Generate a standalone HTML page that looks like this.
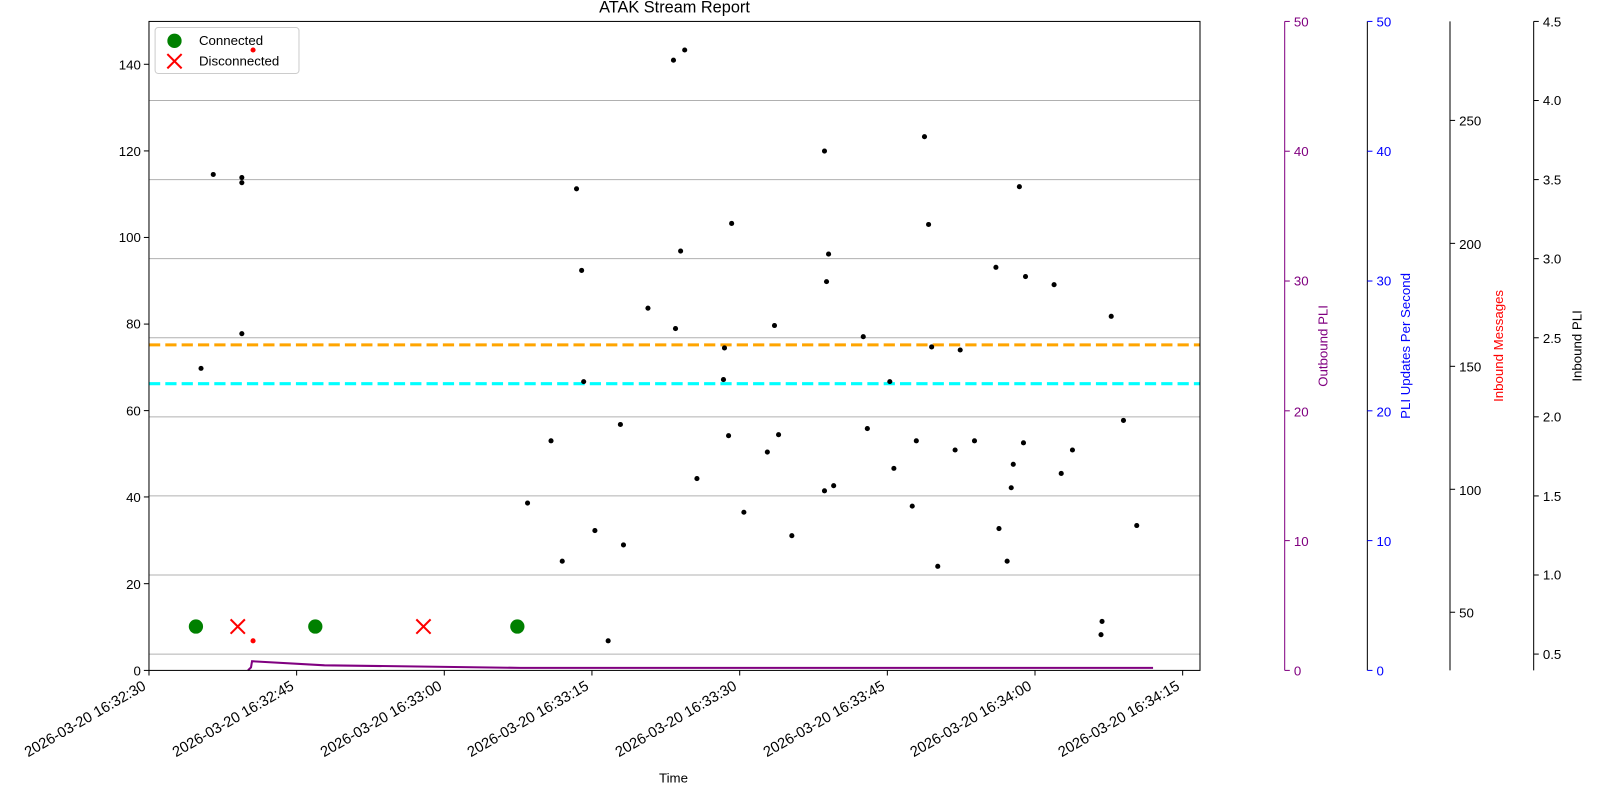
<!DOCTYPE html>
<html><head><meta charset="utf-8"><style>
html,body{margin:0;padding:0;background:#fff;}
svg{display:block;font-family:"Liberation Sans","DejaVu Sans",sans-serif;}
</style></head><body>
<svg width="1600" height="800" viewBox="0 0 1568 784" preserveAspectRatio="none" xmlns="http://www.w3.org/2000/svg">
<rect width="1568" height="784" fill="#fff"/>
<text x="661" y="12" font-size="16" text-anchor="middle">ATAK Stream Report</text>
<g stroke="#b0b0b0" stroke-width="1">
<line x1="146" x2="1176" y1="98.5" y2="98.5"/>
<line x1="146" x2="1176" y1="176" y2="176"/>
<line x1="146" x2="1176" y1="253.5" y2="253.5"/>
<line x1="146" x2="1176" y1="331" y2="331"/>
<line x1="146" x2="1176" y1="408.5" y2="408.5"/>
<line x1="146" x2="1176" y1="486" y2="486"/>
<line x1="146" x2="1176" y1="563.5" y2="563.5"/>
<line x1="146" x2="1176" y1="641" y2="641"/>
</g>
<line x1="146" x2="1176" y1="338" y2="338" stroke="orange" stroke-width="3" stroke-dasharray="11,5"/>
<line x1="146" x2="1176" y1="376" y2="376" stroke="cyan" stroke-width="3" stroke-dasharray="11,5"/>
<polyline fill="none" stroke="purple" stroke-width="2" points="243,657 246,654 247,648 318,652 510,654.5 1130,654.5"/>
<g fill="#000">
<circle cx="197" cy="361" r="2.5"/><circle cx="209" cy="171" r="2.5"/><circle cx="237" cy="174" r="2.5"/><circle cx="237" cy="179" r="2.5"/><circle cx="237" cy="327" r="2.5"/>
<circle cx="565" cy="185" r="2.5"/><circle cx="570" cy="265" r="2.5"/><circle cx="572" cy="374" r="2.5"/><circle cx="517" cy="493" r="2.5"/><circle cx="540" cy="432" r="2.5"/>
<circle cx="551" cy="550" r="2.5"/><circle cx="583" cy="520" r="2.5"/><circle cx="596" cy="628" r="2.5"/><circle cx="608" cy="416" r="2.5"/><circle cx="611" cy="534" r="2.5"/>
<circle cx="635" cy="302" r="2.5"/><circle cx="660" cy="59" r="2.5"/><circle cx="671" cy="49" r="2.5"/><circle cx="667" cy="246" r="2.5"/><circle cx="662" cy="322" r="2.5"/>
<circle cx="683" cy="469" r="2.5"/><circle cx="710" cy="341" r="2.5"/><circle cx="709" cy="372" r="2.5"/><circle cx="714" cy="427" r="2.5"/><circle cx="717" cy="219" r="2.5"/>
<circle cx="729" cy="502" r="2.5"/><circle cx="752" cy="443" r="2.5"/><circle cx="759" cy="319" r="2.5"/><circle cx="763" cy="426" r="2.5"/><circle cx="776" cy="525" r="2.5"/>
<circle cx="808" cy="148" r="2.5"/><circle cx="812" cy="249" r="2.5"/><circle cx="810" cy="276" r="2.5"/><circle cx="808" cy="481" r="2.5"/><circle cx="817" cy="476" r="2.5"/>
<circle cx="846" cy="330" r="2.5"/><circle cx="850" cy="420" r="2.5"/><circle cx="872" cy="374" r="2.5"/><circle cx="876" cy="459" r="2.5"/><circle cx="894" cy="496" r="2.5"/>
<circle cx="898" cy="432" r="2.5"/><circle cx="906" cy="134" r="2.5"/><circle cx="910" cy="220" r="2.5"/><circle cx="913" cy="340" r="2.5"/><circle cx="919" cy="555" r="2.5"/>
<circle cx="936" cy="441" r="2.5"/><circle cx="941" cy="343" r="2.5"/><circle cx="955" cy="432" r="2.5"/><circle cx="976" cy="262" r="2.5"/><circle cx="979" cy="518" r="2.5"/>
<circle cx="987" cy="550" r="2.5"/><circle cx="991" cy="478" r="2.5"/><circle cx="993" cy="455" r="2.5"/><circle cx="999" cy="183" r="2.5"/><circle cx="1003" cy="434" r="2.5"/>
<circle cx="1005" cy="271" r="2.5"/><circle cx="1033" cy="279" r="2.5"/><circle cx="1040" cy="464" r="2.5"/><circle cx="1051" cy="441" r="2.5"/><circle cx="1080" cy="609" r="2.5"/>
<circle cx="1079" cy="622" r="2.5"/><circle cx="1089" cy="310" r="2.5"/><circle cx="1101" cy="412" r="2.5"/><circle cx="1114" cy="515" r="2.5"/>
</g>
<circle cx="248" cy="628" r="2.5" fill="red"/>
<g fill="green"><circle cx="192" cy="614" r="7"/><circle cx="309" cy="614" r="7"/><circle cx="507" cy="614" r="7"/></g>
<g stroke="red" stroke-width="2"><path d="M226,607L240,621M240,607L226,621"/><path d="M408,607L422,621M422,607L408,621"/></g>
<rect x="146" y="21" width="1030" height="636" fill="none" stroke="#000" stroke-width="1"/>
<g font-size="13" text-anchor="end" fill="#000">
<g stroke="#000"><line x1="141" x2="146" y1="657" y2="657"/><line x1="141" x2="146" y1="572" y2="572"/><line x1="141" x2="146" y1="487" y2="487"/><line x1="141" x2="146" y1="402.4" y2="402.4"/><line x1="141" x2="146" y1="317.6" y2="317.6"/><line x1="141" x2="146" y1="232.7" y2="232.7"/><line x1="141" x2="146" y1="147.9" y2="147.9"/><line x1="141" x2="146" y1="63" y2="63"/></g>
<text x="138" y="662">0</text><text x="138" y="577">20</text><text x="138" y="492">40</text><text x="138" y="407">60</text><text x="138" y="322">80</text><text x="138" y="237">100</text><text x="138" y="153">120</text><text x="138" y="68">140</text>
</g>
<g stroke="#000">
<line x1="146" x2="146" y1="657" y2="662"/><line x1="290.7" x2="290.7" y1="657" y2="662"/><line x1="435.4" x2="435.4" y1="657" y2="662"/><line x1="580.1" x2="580.1" y1="657" y2="662"/><line x1="724.9" x2="724.9" y1="657" y2="662"/><line x1="869.6" x2="869.6" y1="657" y2="662"/><line x1="1014.3" x2="1014.3" y1="657" y2="662"/><line x1="1159" x2="1159" y1="657" y2="662"/>
</g>
<g font-size="14.5" text-anchor="end">
<text transform="translate(144,675) rotate(-30)">2026-03-20 16:32:30</text>
<text transform="translate(289,675) rotate(-30)">2026-03-20 16:32:45</text>
<text transform="translate(434,675) rotate(-30)">2026-03-20 16:33:00</text>
<text transform="translate(578,675) rotate(-30)">2026-03-20 16:33:15</text>
<text transform="translate(723,675) rotate(-30)">2026-03-20 16:33:30</text>
<text transform="translate(868,675) rotate(-30)">2026-03-20 16:33:45</text>
<text transform="translate(1012,675) rotate(-30)">2026-03-20 16:34:00</text>
<text transform="translate(1157,675) rotate(-30)">2026-03-20 16:34:15</text>
</g>
<text x="660" y="767" font-size="13" text-anchor="middle">Time</text>
<g fill="purple" stroke="purple" font-size="13">
<line x1="1259" x2="1259" y1="21" y2="657"/>
<g><line x1="1259" x2="1264" y1="657" y2="657"/><line x1="1259" x2="1264" y1="529.8" y2="529.8"/><line x1="1259" x2="1264" y1="402.6" y2="402.6"/><line x1="1259" x2="1264" y1="275.4" y2="275.4"/><line x1="1259" x2="1264" y1="148.2" y2="148.2"/><line x1="1259" x2="1264" y1="21" y2="21"/></g>
<g stroke="none"><text x="1268" y="662">0</text><text x="1268" y="535">10</text><text x="1268" y="408">20</text><text x="1268" y="280">30</text><text x="1268" y="153">40</text><text x="1268" y="26">50</text>
<text transform="translate(1301,339) rotate(-90)" text-anchor="middle">Outbound PLI</text></g>
</g>
<g fill="blue" stroke="blue" font-size="13">
<line x1="1340" x2="1340" y1="21" y2="657" stroke="#000"/>
<g><line x1="1340" x2="1345" y1="657" y2="657"/><line x1="1340" x2="1345" y1="529.8" y2="529.8"/><line x1="1340" x2="1345" y1="402.6" y2="402.6"/><line x1="1340" x2="1345" y1="275.4" y2="275.4"/><line x1="1340" x2="1345" y1="148.2" y2="148.2"/><line x1="1340" x2="1345" y1="21" y2="21"/></g>
<g stroke="none"><text x="1349" y="662">0</text><text x="1349" y="535">10</text><text x="1349" y="408">20</text><text x="1349" y="280">30</text><text x="1349" y="153">40</text><text x="1349" y="26">50</text>
<text transform="translate(1382,339) rotate(-90)" text-anchor="middle">PLI Updates Per Second</text></g>
</g>
<g font-size="13">
<line x1="1421" x2="1421" y1="21" y2="657" stroke="#000"/>
<g stroke="#000"><line x1="1421" x2="1426" y1="600" y2="600"/><line x1="1421" x2="1426" y1="479.5" y2="479.5"/><line x1="1421" x2="1426" y1="359" y2="359"/><line x1="1421" x2="1426" y1="238.5" y2="238.5"/><line x1="1421" x2="1426" y1="118" y2="118"/></g>
<text x="1430" y="605">50</text><text x="1430" y="485">100</text><text x="1430" y="364">150</text><text x="1430" y="244">200</text><text x="1430" y="123">250</text>
<text transform="translate(1473,339) rotate(-90)" text-anchor="middle" fill="red">Inbound Messages</text>
</g>
<g font-size="13">
<line x1="1503" x2="1503" y1="21" y2="657" stroke="#000"/>
<g stroke="#000"><line x1="1503" x2="1508" y1="641" y2="641"/><line x1="1503" x2="1508" y1="563.5" y2="563.5"/><line x1="1503" x2="1508" y1="486" y2="486"/><line x1="1503" x2="1508" y1="408.5" y2="408.5"/><line x1="1503" x2="1508" y1="331" y2="331"/><line x1="1503" x2="1508" y1="253.5" y2="253.5"/><line x1="1503" x2="1508" y1="176" y2="176"/><line x1="1503" x2="1508" y1="98.5" y2="98.5"/><line x1="1503" x2="1508" y1="21" y2="21"/></g>
<text x="1512" y="646">0.5</text><text x="1512" y="568">1.0</text><text x="1512" y="491">1.5</text><text x="1512" y="413">2.0</text><text x="1512" y="336">2.5</text><text x="1512" y="258">3.0</text><text x="1512" y="181">3.5</text><text x="1512" y="103">4.0</text><text x="1512" y="26">4.5</text>
<text transform="translate(1550,339) rotate(-90)" text-anchor="middle">Inbound PLI</text>
</g>
<rect x="152" y="27" width="141" height="45" rx="3" fill="#fff" fill-opacity="0.8" stroke="#ccc"/>
<circle cx="171" cy="40" r="7" fill="green"/>
<path d="M164,53L178,67M178,53L164,67" stroke="red" stroke-width="2"/>
<text x="195" y="44" font-size="13">Connected</text>
<text x="195" y="64" font-size="13">Disconnected</text>
<circle cx="248" cy="49" r="2.5" fill="red"/>
</svg>
</body></html>
